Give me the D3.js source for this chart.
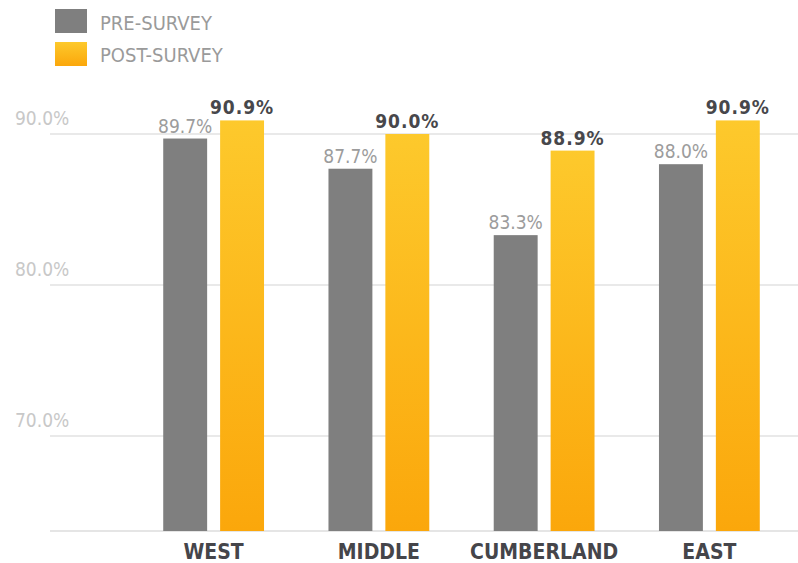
<!DOCTYPE html>
<html>
<head>
<meta charset="utf-8">
<script src="https://cdn.jsdelivr.net/npm/d3@7/dist/d3.min.js"></script>
<style>
  body { margin: 0; background: #fff; }
  svg { display: block; }
  .cond { font-family: "DejaVu Sans Condensed", "Liberation Sans Narrow", sans-serif; }
</style>
</head>
<body>
<div id="chart"></div>
<script>
const regions = ["WEST", "MIDDLE", "CUMBERLAND", "EAST"];
const seriesNames = ["PRE-SURVEY", "POST-SURVEY"];
const preSurvey = [89.7, 87.7, 83.3, 88.0];
const postSurvey = [90.9, 90.0, 88.9, 90.9];
const yTicks = [70, 80, 90];

const width = 798, height = 563;
const svg = d3.select("#chart").append("svg")
    .attr("width", width)
    .attr("height", height);

// verloop voor de gele staven
const grad = svg.append("defs").append("linearGradient")
    .attr("id", "geel").attr("x1", 0).attr("x2", 0).attr("y1", 0).attr("y2", 1);
grad.append("stop").attr("offset", "0%").attr("stop-color", "#fdc92c");
grad.append("stop").attr("offset", "100%").attr("stop-color", "#fba70b");

const colors = ["#7f7f7f", "url(#geel)"];

const y = d3.scaleLinear().domain([63.7, 90]).range([531, 134]);
const x0 = d3.scaleBand().domain(regions).range([131, 792]).paddingInner(0.39).paddingOuter(0.195);
const x1 = d3.scaleBand().domain(seriesNames).range([0, x0.bandwidth()]).paddingInner(0.228);

// rasterlijnen + labels
yTicks.forEach(t => {
    svg.append("line")
        .attr("x1", 50).attr("x2", width)
        .attr("y1", y(t)).attr("y2", y(t))
        .attr("stroke", "#e2e2e2").attr("stroke-width", 1.5);
    svg.append("text")
        .attr("class", "cond")
        .attr("x", 15).attr("y", y(t) - 9)
        .attr("font-size", 19)
        .attr("fill", "#c8c8c8")
        .text(t.toFixed(1) + "%");
});

// basislijn
svg.append("line")
    .attr("x1", 50).attr("x2", width)
    .attr("y1", y.range()[0]).attr("y2", y.range()[0])
    .attr("stroke", "#dcdcdc").attr("stroke-width", 1.5);

const data = regions.map((r, i) => ({
    region: r,
    values: [
        { serie: seriesNames[0], v: preSurvey[i] },
        { serie: seriesNames[1], v: postSurvey[i] }
    ]
}));

const groups = svg.selectAll(".groep")
    .data(data)
    .enter().append("g")
    .attr("transform", d => `translate(${x0(d.region)},0)`);

groups.selectAll("rect")
    .data(d => d.values)
    .enter().append("rect")
    .attr("x", d => x1(d.serie))
    .attr("y", d => y(d.v))
    .attr("width", x1.bandwidth())
    .attr("height", d => y.range()[0] - y(d.v))
    .attr("fill", (d, i) => colors[i]);

groups.selectAll(".waarde")
    .data(d => d.values)
    .enter().append("text")
    .attr("class", "cond")
    .attr("x", d => x1(d.serie) + x1.bandwidth() / 2)
    .attr("y", d => y(d.v) - 6)
    .attr("text-anchor", "middle")
    .attr("font-size", (d, i) => i === 0 ? 19 : 19)
    .attr("font-weight", (d, i) => i === 0 ? "normal" : "bold")
    .attr("letter-spacing", (d, i) => i === 0 ? 0 : 1)
    .attr("fill", (d, i) => i === 0 ? "#9c9c9c" : "#47474b")
    .text(d => d.v.toFixed(1) + "%");

// categorie-labels
svg.selectAll(".cat")
    .data(regions)
    .enter().append("text")
    .attr("class", "cond")
    .attr("x", d => x0(d) + x0.bandwidth() / 2)
    .attr("y", 559)
    .attr("text-anchor", "middle")
    .attr("font-size", 21)
    .attr("font-weight", "bold")
    .attr("fill", "#45454a")
    .text(d => d);

// legenda
seriesNames.forEach((s, i) => {
    svg.append("rect")
        .attr("x", 55).attr("y", 9 + i * 33)
        .attr("width", 32).attr("height", 24)
        .attr("fill", colors[i]);
    svg.append("text")
        .attr("class", "cond")
        .attr("x", 100).attr("y", 30 + i * 32)
        .attr("font-size", 20)
        .attr("fill", "#9a9a9a")
        .text(s);
});
</script>
</body>
</html>
